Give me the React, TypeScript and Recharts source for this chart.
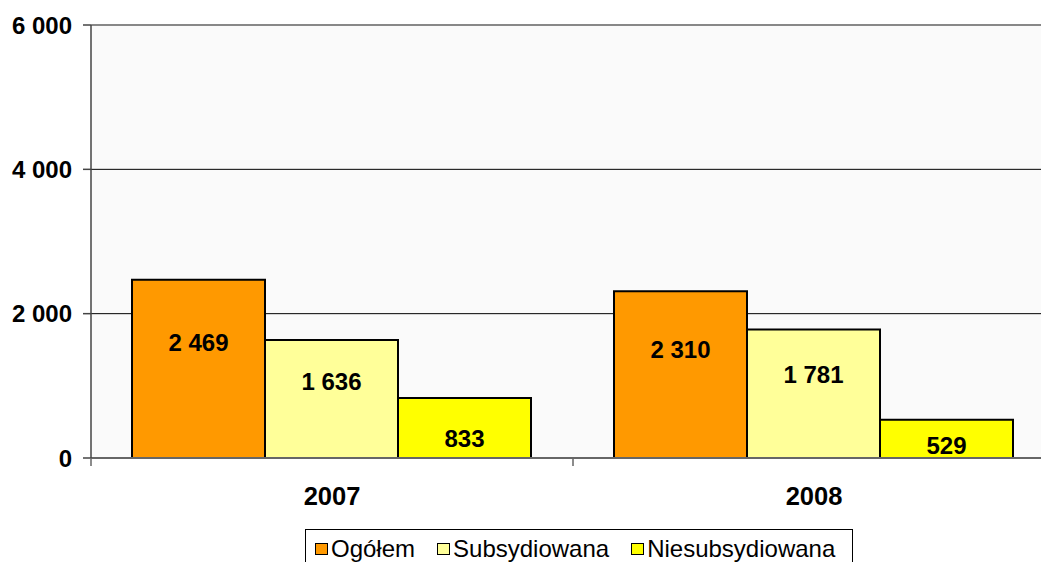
import React from 'react';
import { BarChart, Bar, XAxis, YAxis, CartesianGrid, ReferenceLine, LabelList, Legend } from 'recharts';

const categories = ['2007', '2008'];
const ogolem = [2469, 2310];
const subsydiowana = [1636, 1781];
const niesubsydiowana = [833, 529];
const yTicks = [0, 2000, 4000, 6000];
const seriesKeys = ['ogolem', 'subsydiowana', 'niesubsydiowana'];
const seriesNames = ['Ogółem', 'Subsydiowana', 'Niesubsydiowana'];
const seriesColors = ['#FF9900', '#FFFF99', '#FFFF00'];

const data = categories.map((c, i) => ({
  year: c,
  ogolem: ogolem[i],
  subsydiowana: subsydiowana[i],
  niesubsydiowana: niesubsydiowana[i],
}));

const FONT = '"Liberation Sans", Arial, sans-serif';
const fmt = (v: number) => String(v).replace(/\B(?=(\d{3})+(?!\d))/g, ' ');

const BarLabel = (props: any) => {
  const { x, y, width, height, value } = props;
  const h = Number(height);
  const frac = h > 100 ? 0.35 : 0.68;
  return (
    <text
      x={Number(x) + Number(width) / 2}
      y={Number(y) + h * frac}
      dy="0.35em"
      textAnchor="middle"
      fontFamily={FONT}
      fontWeight="bold"
      fontSize={24}
      fill="#000"
    >
      {fmt(Number(value))}
    </text>
  );
};

const XTick = (props: any) => {
  const { x, y, payload, index, visibleTicksCount, width } = props;
  const half = payload && payload.offset ? payload.offset : width / visibleTicksCount / 2;
  return (
    <g>
      <line x1={x - half} x2={x - half} y1={y} y2={y + 8} stroke="#666" strokeWidth={1.5} />
      {index === visibleTicksCount - 1 && (
        <line x1={x + half} x2={x + half} y1={y} y2={y + 8} stroke="#666" strokeWidth={1.5} />
      )}
      <text x={x} y={y + 38} dy="0.35em" textAnchor="middle" fontFamily={FONT} fontWeight="bold" fontSize={25.5} fill="#000">
        {payload.value}
      </text>
    </g>
  );
};

const LegendBox = () => (
  <div
    style={{
      border: '1px solid #000',
      display: 'flex',
      alignItems: 'flex-start',
      padding: '7px 9px 0 9px',
      boxSizing: 'border-box',
      width: 548,
      height: 44,
      fontFamily: FONT,
      fontSize: 24,
      lineHeight: '24px',
      background: '#fff',
      color: '#000',
      whiteSpace: 'nowrap',
    }}
  >
    {seriesNames.map((n, i) => (
      <span key={n} style={{ display: 'flex', alignItems: 'center', height: 24, marginRight: i < 2 ? 22 : 0 }}>
        <span
          style={{
            display: 'inline-block',
            boxSizing: 'border-box',
            width: 13,
            height: 12,
            border: '1.5px solid #000',
            background: seriesColors[i],
            marginRight: 3,
          }}
        />
        {n}
      </span>
    ))}
  </div>
);

export default function App() {
  return (
    <div style={{ position: 'absolute', left: 0, top: 0, width: 1041, height: 562, overflow: 'hidden', background: '#fff' }}>
      <BarChart
        width={1070}
        height={600}
        data={data}
        margin={{ top: 25, right: 15, bottom: 82, left: 0 }}
        barCategoryGap={41}
        barGap={0}
      >
        <CartesianGrid vertical={false} stroke="#000" strokeWidth={1} fill="#fafafa" />
        <ReferenceLine y={6000} stroke="#888" strokeWidth={2} />
        <XAxis
          dataKey="year"
          height={60}
          tickLine={false}
          tickSize={0}
          tickMargin={0}
          axisLine={{ stroke: '#666', strokeWidth: 2 }}
          tick={(p: any) => <XTick {...p} />}
          interval={0}
        />
        <YAxis
          width={91}
          domain={[0, 6000]}
          ticks={yTicks}
          interval={0}
          tickSize={8}
          tickMargin={11}
          axisLine={{ stroke: '#444', strokeWidth: 1.5 }}
          tickLine={{ stroke: '#444', strokeWidth: 1.5 }}
          tickFormatter={(v: number) => fmt(v)}
          tick={{ fontFamily: FONT, fontWeight: 'bold', fontSize: 24, fill: '#000' }}
        />
        <Legend
          layout="horizontal"
          verticalAlign="middle"
          align="center"
          content={() => <LegendBox />}
          wrapperStyle={{ left: 305, top: 529, width: 548 }}
        />
        {seriesKeys.map((k, i) => (
          <Bar key={k} dataKey={k} name={seriesNames[i]} fill={seriesColors[i]} stroke="#000" strokeWidth={2} isAnimationActive={false}>
            <LabelList dataKey={k} content={(p: any) => <BarLabel {...p} />} />
          </Bar>
        ))}
      </BarChart>
    </div>
  );
}
